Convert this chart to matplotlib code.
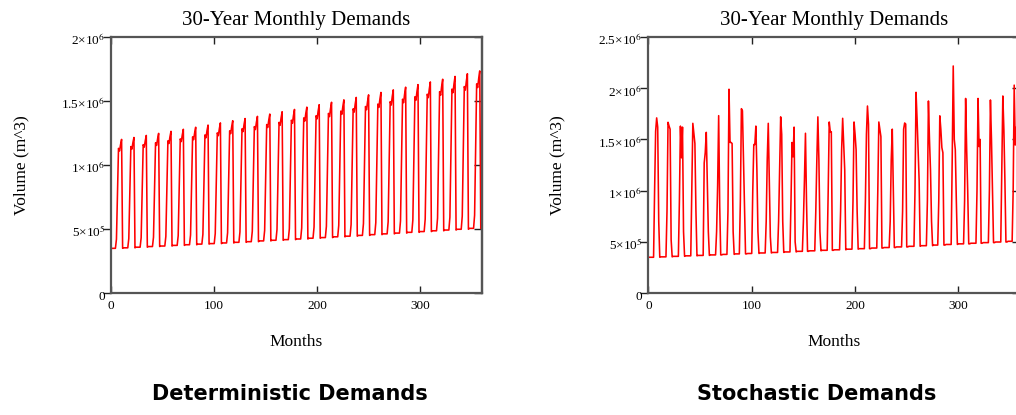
import numpy as np
import matplotlib
matplotlib.use("Agg")
import matplotlib.pyplot as plt
import matplotlib.transforms as mtransforms
from matplotlib.ticker import FuncFormatter, MultipleLocator

plt.rcParams['font.family'] = ['Liberation Serif', 'DejaVu Serif']
plt.rcParams['mathtext.fontset'] = 'stix'

# monthly demands in thousands of m^3, one row per year (12 months)
det_demand = [
    [349, 349, 349, 349, 349, 420, 760, 1130, 1110, 1160, 1200, 349],
    [353, 353, 353, 353, 353, 425, 770, 1144, 1124, 1175, 1215, 353],
    [358, 358, 358, 358, 358, 431, 780, 1159, 1139, 1190, 1231, 358],
    [363, 363, 363, 363, 363, 436, 790, 1174, 1153, 1205, 1247, 363],
    [367, 367, 367, 367, 367, 442, 800, 1189, 1168, 1221, 1263, 367],
    [372, 372, 372, 372, 372, 448, 810, 1204, 1183, 1236, 1279, 372],
    [377, 377, 377, 377, 377, 453, 820, 1220, 1198, 1252, 1295, 377],
    [382, 382, 382, 382, 382, 459, 831, 1235, 1213, 1268, 1312, 382],
    [386, 386, 386, 386, 386, 465, 841, 1251, 1229, 1284, 1329, 386],
    [391, 391, 391, 391, 391, 471, 852, 1267, 1245, 1301, 1346, 391],
    [396, 396, 396, 396, 396, 477, 863, 1283, 1261, 1317, 1363, 396],
    [401, 401, 401, 401, 401, 483, 874, 1300, 1277, 1334, 1380, 401],
    [407, 407, 407, 407, 407, 489, 885, 1316, 1293, 1351, 1398, 407],
    [412, 412, 412, 412, 412, 496, 897, 1333, 1310, 1369, 1416, 412],
    [417, 417, 417, 417, 417, 502, 908, 1350, 1326, 1386, 1434, 417],
    [422, 422, 422, 422, 422, 508, 920, 1368, 1343, 1404, 1452, 422],
    [428, 428, 428, 428, 428, 515, 932, 1385, 1361, 1422, 1471, 428],
    [433, 433, 433, 433, 433, 521, 943, 1403, 1378, 1440, 1490, 433],
    [439, 439, 439, 439, 439, 528, 956, 1421, 1396, 1458, 1509, 439],
    [444, 444, 444, 444, 444, 535, 968, 1439, 1413, 1477, 1528, 444],
    [450, 450, 450, 450, 450, 542, 980, 1457, 1432, 1496, 1548, 450],
    [456, 456, 456, 456, 456, 549, 993, 1476, 1450, 1515, 1567, 456],
    [462, 462, 462, 462, 462, 556, 1005, 1495, 1468, 1535, 1587, 462],
    [468, 468, 468, 468, 468, 563, 1018, 1514, 1487, 1554, 1608, 468],
    [474, 474, 474, 474, 474, 570, 1031, 1533, 1506, 1574, 1628, 474],
    [480, 480, 480, 480, 480, 577, 1045, 1553, 1526, 1594, 1649, 480],
    [486, 486, 486, 486, 486, 585, 1058, 1573, 1545, 1615, 1670, 486],
    [492, 492, 492, 492, 492, 592, 1071, 1593, 1565, 1635, 1692, 492],
    [498, 498, 498, 498, 498, 600, 1085, 1613, 1585, 1656, 1713, 498],
    [505, 505, 505, 505, 505, 607, 1099, 1634, 1605, 1677, 1735, 505],
]

sto_demand = [
    [349, 349, 349, 349, 349, 349, 1000, 1580, 1710, 1620, 700, 349],
    [353, 353, 353, 353, 353, 353, 800, 1667, 1630, 1600, 520, 353],
    [358, 358, 358, 358, 358, 358, 900, 1630, 1320, 1620, 600, 358],
    [363, 363, 363, 363, 363, 363, 1000, 1657, 1560, 1460, 800, 363],
    [367, 367, 367, 367, 367, 367, 1270, 1370, 1569, 1100, 600, 367],
    [372, 372, 372, 372, 372, 372, 600, 1050, 1732, 850, 372, 372],
    [377, 377, 377, 377, 377, 800, 1990, 1470, 1470, 1460, 600, 377],
    [382, 382, 382, 382, 382, 900, 1800, 1780, 1300, 800, 382, 382],
    [386, 386, 386, 386, 386, 1000, 1450, 1450, 1630, 1200, 600, 386],
    [391, 391, 391, 391, 391, 391, 700, 1300, 1657, 1100, 550, 391],
    [396, 396, 396, 396, 396, 396, 700, 1200, 1720, 1550, 700, 396],
    [401, 401, 401, 401, 401, 401, 900, 1470, 1330, 1620, 500, 401],
    [407, 407, 407, 407, 407, 407, 700, 1100, 1560, 900, 407, 407],
    [412, 412, 412, 412, 412, 412, 800, 1300, 1720, 1300, 600, 412],
    [417, 417, 417, 417, 417, 417, 1000, 1670, 1575, 1575, 417, 417],
    [422, 422, 422, 422, 422, 422, 800, 1400, 1706, 1450, 1200, 422],
    [428, 428, 428, 428, 428, 428, 900, 1670, 1550, 1400, 800, 428],
    [433, 433, 433, 433, 433, 433, 900, 1550, 1826, 1647, 433, 433],
    [439, 439, 439, 439, 439, 439, 1000, 1670, 1600, 1527, 439, 439],
    [444, 444, 444, 444, 444, 444, 700, 1300, 1600, 1000, 444, 444],
    [450, 450, 450, 450, 450, 450, 800, 1600, 1660, 1650, 450, 450],
    [456, 456, 456, 456, 456, 456, 1000, 1960, 1700, 1400, 1100, 456],
    [462, 462, 462, 462, 462, 462, 900, 1875, 1500, 1200, 700, 462],
    [468, 468, 468, 468, 468, 900, 1730, 1600, 1420, 1370, 468, 468],
    [474, 474, 474, 474, 474, 474, 1300, 2217, 1500, 1400, 900, 474],
    [480, 480, 480, 480, 480, 480, 900, 1900, 1400, 1000, 480, 480],
    [486, 486, 486, 486, 486, 486, 1000, 1900, 1430, 1500, 486, 486],
    [492, 492, 492, 492, 492, 492, 1000, 1885, 1500, 1000, 492, 492],
    [498, 498, 498, 498, 498, 498, 1200, 1924, 1600, 1100, 498, 498],
    [505, 505, 505, 505, 505, 1000, 2030, 1445, 1620, 1300, 700, 505],
]

panel_titles = ["30-Year Monthly Demands", "30-Year Monthly Demands"]
panel_captions = ["Deterministic Demands", "Stochastic Demands"]
y_tops = [2.0e6, 2.5e6]


def sci_label(v, pos):
    if v == 0:
        return "0"
    exp = int(np.floor(np.log10(abs(v)) + 1e-9))
    mant = v / 10 ** exp
    return ("%g" % mant) + "\u00d710$^{%d}$" % exp


def draw_panel(ax, series, title, ytop):
    values = np.array(series, dtype=float).ravel() * 1000.0
    months = np.arange(len(values))
    ax.plot(months, values, color="#ff0000", lw=1.15)

    ax.set_xlim(0, 360)
    ax.set_ylim(0, ytop)
    ax.xaxis.set_major_locator(MultipleLocator(100))
    ax.yaxis.set_major_locator(MultipleLocator(5e5))
    ax.yaxis.set_major_formatter(FuncFormatter(sci_label))

    for sp in ax.spines.values():
        sp.set_color("#555555")
        sp.set_linewidth(1.6)

    ax.tick_params(axis="x", direction="in", top=True, length=5, width=1.0,
                   color="#222222", labelsize=9.5, pad=5)
    ax.tick_params(axis="y", direction="out", right=False, length=6, width=1.0,
                   color="#222222", labelsize=9.5, pad=-1.5)
    # Mathcad puts the y labels a little under their tick
    shift = mtransforms.ScaledTranslation(0, -2 / 100.0, ax.figure.dpi_scale_trans)
    for lab in ax.get_yticklabels():
        lab.set_transform(lab.get_transform() + shift)

    sec = ax.secondary_yaxis("right")
    sec.yaxis.set_major_locator(MultipleLocator(5e5))
    sec.tick_params(direction="in", length=6, width=1.0, color="#222222",
                    labelright=False)
    sec.spines["right"].set_color("#555555")
    sec.spines["right"].set_linewidth(1.6)

    ax.set_title(title, fontsize=15, pad=8.5)
    ax.set_xlabel("Months", fontsize=12.5, labelpad=16)
    ax.set_ylabel("Volume (m^3)", fontsize=12.5)
    ax.yaxis.set_label_coords(-0.222, 0.5)


fig = plt.figure(figsize=(10.16, 4.15), dpi=100)
W, H = 1016.0, 415.0
ax1 = fig.add_axes([111.3 / W, 1 - 293 / H, 370.5 / W, 256 / H])
ax2 = fig.add_axes([648.4 / W, 1 - 293 / H, 372 / W, 256 / H])

draw_panel(ax1, det_demand, panel_titles[0], y_tops[0])
draw_panel(ax2, sto_demand, panel_titles[1], y_tops[1])

cap_font = dict(fontsize=15, fontweight="bold", family=["DejaVu Sans"],
                ha="center", va="baseline")
fig.text(290 / W, 1 - 399.5 / H, panel_captions[0], **cap_font)
fig.text(817 / W, 1 - 399.5 / H, panel_captions[1], **cap_font)

fig.savefig("out.png", dpi=100)
